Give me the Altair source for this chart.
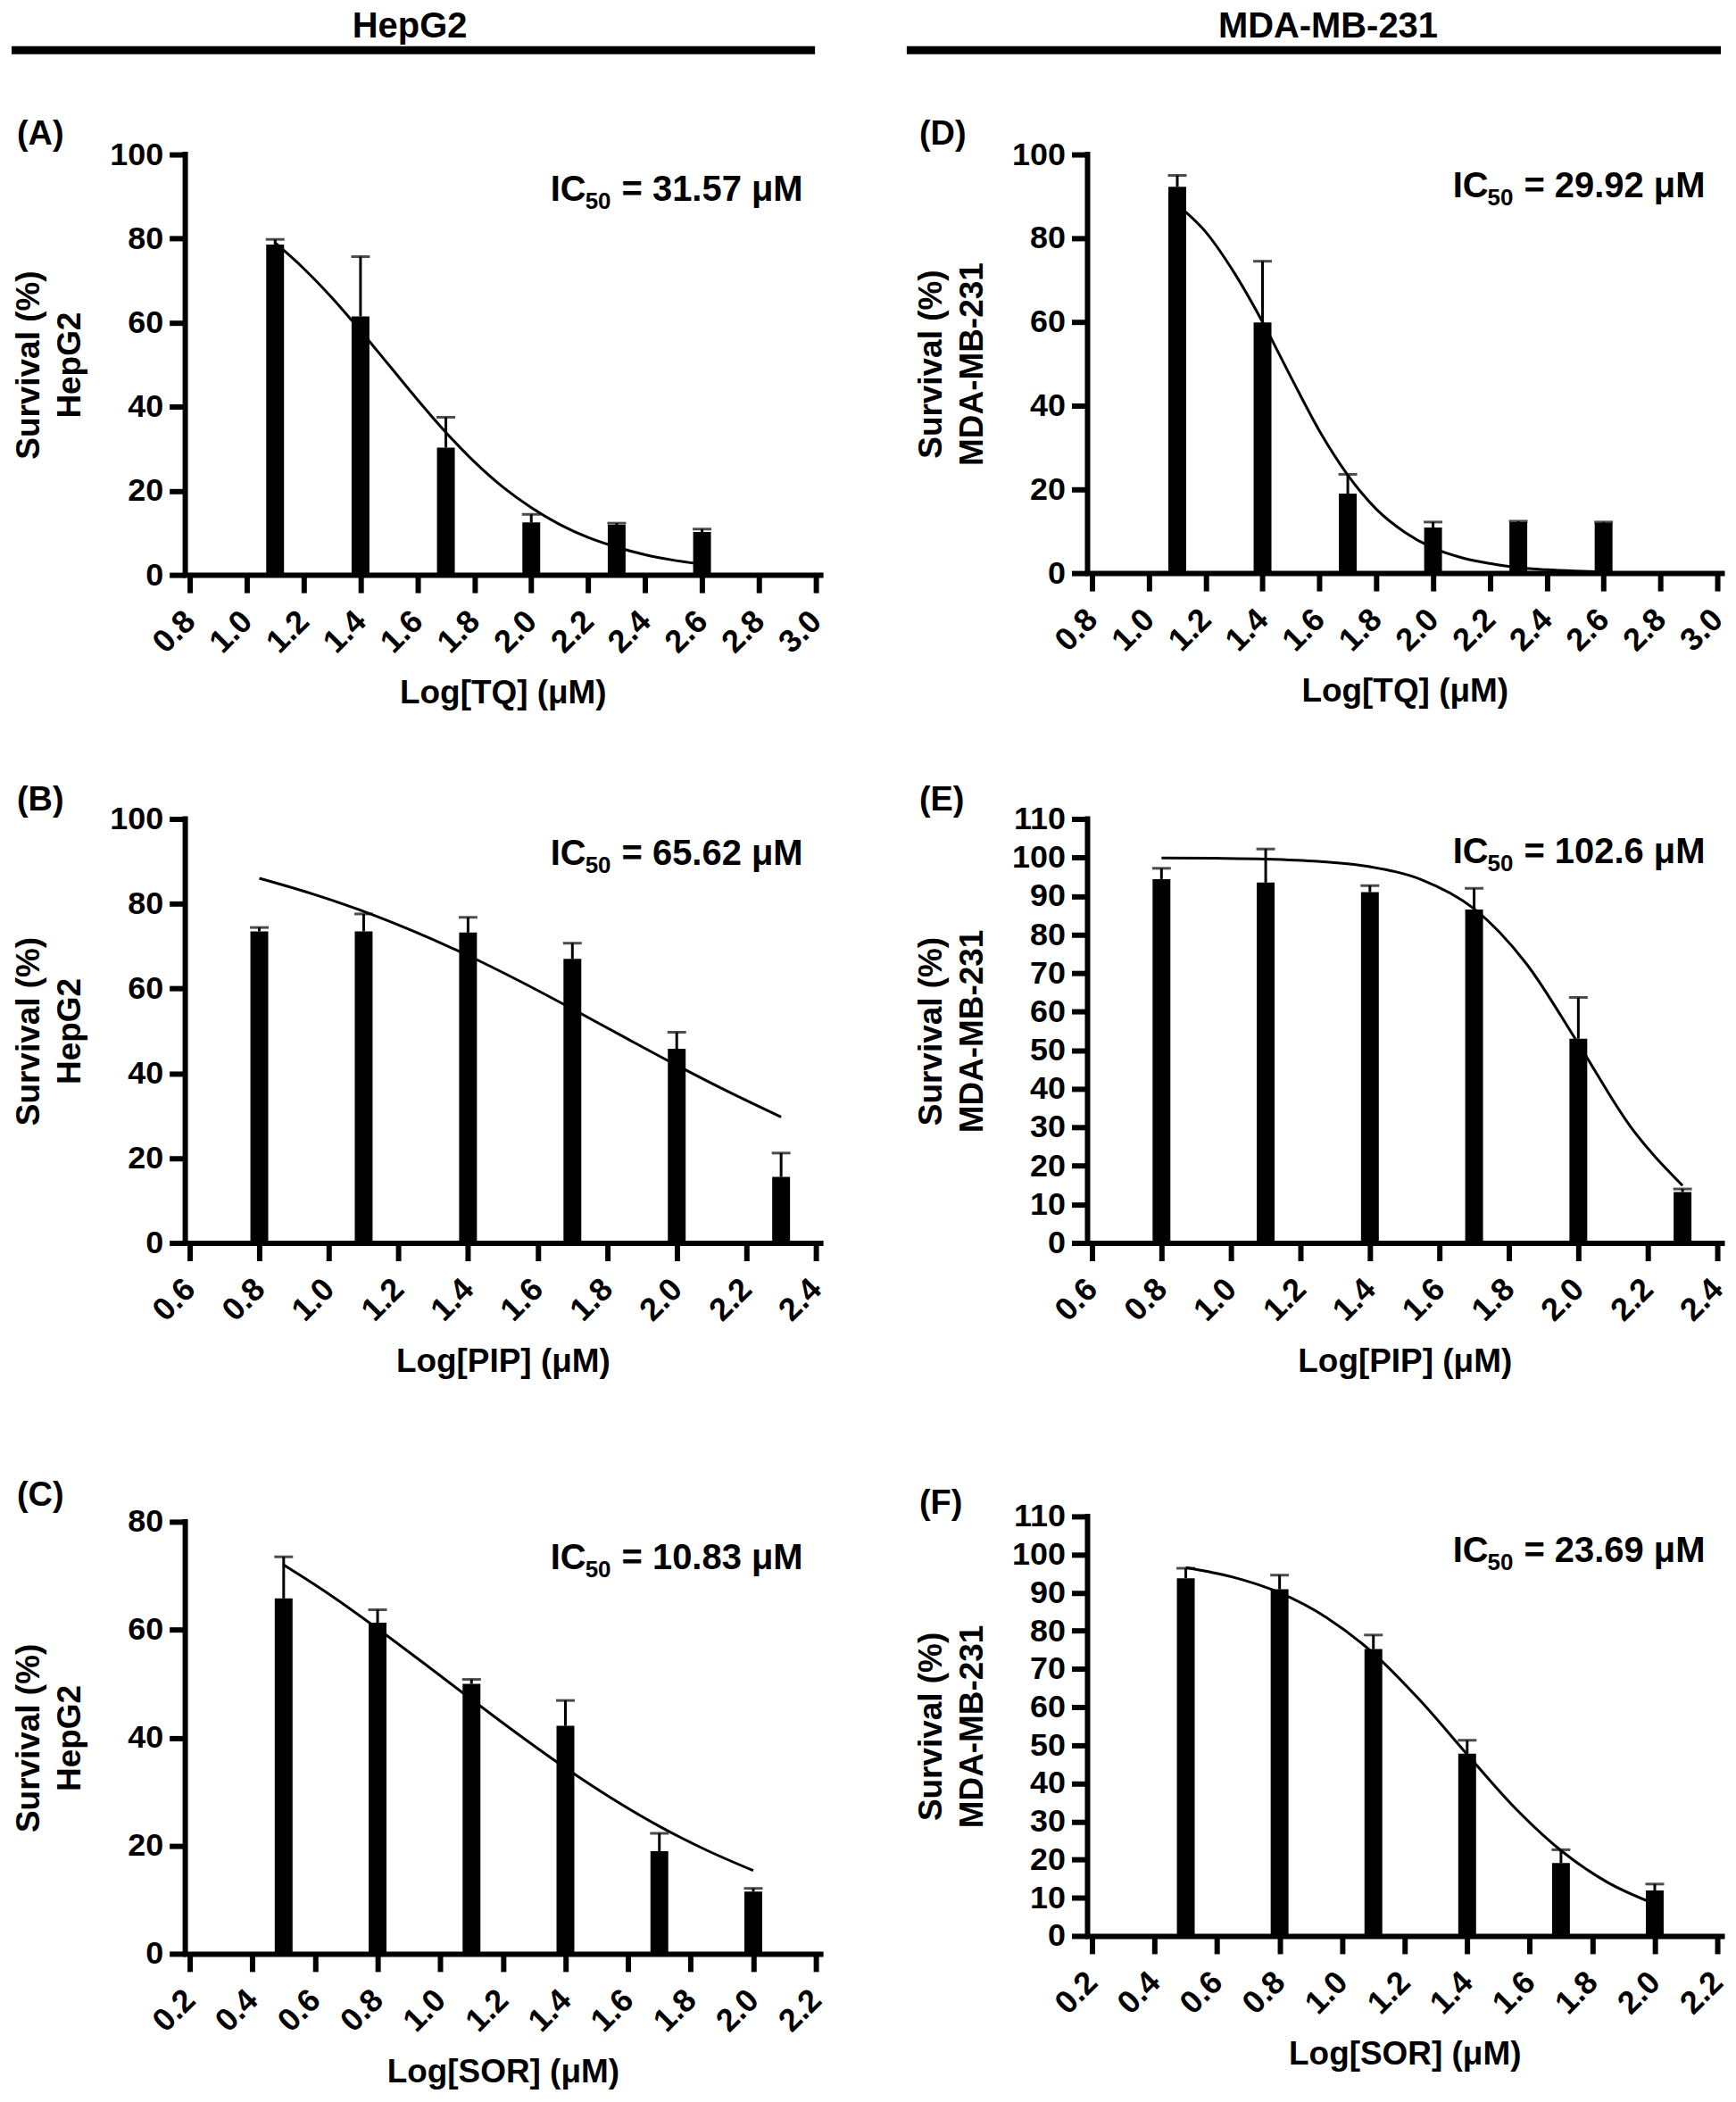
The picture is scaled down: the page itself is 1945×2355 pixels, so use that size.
import altair as alt
import pandas as pd

FONT = "Liberation Sans"

# ---------------- text content ----------------
headers = ["HepG2", "MDA-MB-231"]
letters = ["(A)", "(B)", "(C)", "(D)", "(E)", "(F)"]
x_titles = ["Log[TQ] (μM)", "Log[PIP] (μM)", "Log[SOR] (μM)"]
y_titles = [["Survival (%)", "HepG2"], ["Survival (%)", "MDA-MB-231"]]
ic50_values = ["31.57", "65.62", "10.83", "29.92", "102.6", "23.69"]

# ---------------- x positions (log concentration) ----------------
tq_x = [1.1, 1.4, 1.7, 2.0, 2.3, 2.6]
pip_x = [0.8, 1.1, 1.4, 1.7, 2.0, 2.3]
sor_x = [0.5, 0.8, 1.1, 1.4, 1.7, 2.0]

# ---------------- bar means and upper error ends ----------------
a_mean = [78.6, 61.5, 30.3, 12.5, 11.9, 10.2]
a_upper = [79.8, 75.7, 37.5, 14.4, 12.3, 10.9]
b_mean = [73.5, 73.5, 73.2, 67.0, 45.8, 15.6]
b_upper = [74.4, 77.6, 76.8, 70.7, 49.7, 21.2]
c_mean = [65.8, 61.3, 50.0, 42.2, 19.0, 11.5]
c_upper = [73.5, 63.7, 50.8, 46.9, 22.3, 12.1]
d_mean = [92.3, 59.9, 19.0, 10.9, 12.2, 12.0]
d_upper = [95.0, 74.5, 23.6, 12.2, 12.4, 12.2]
e_mean = [94.4, 93.5, 91.0, 86.5, 53.0, 13.2]
e_upper = [97.2, 102.2, 92.7, 92.0, 63.7, 14.0]
f_mean = [93.8, 90.9, 75.2, 47.8, 19.1, 11.9]
f_upper = [96.4, 94.6, 78.9, 51.3, 22.6, 13.6]

# ---------------- fitted curves ----------------
tq_fit_x = [1.1, 1.2, 1.3, 1.4, 1.5, 1.6, 1.7, 1.8, 1.9, 2.0, 2.1, 2.2, 2.3, 2.4, 2.5, 2.6]
a_fit = [79.0, 72.9, 65.9, 58.1, 49.9, 41.7, 33.9, 26.9, 20.9, 16.0, 12.0, 8.9, 6.6, 4.8, 3.5, 2.5]
d_fit = [88.0, 81.5, 71.8, 60.0, 46.8, 34.0, 23.4, 15.3, 9.8, 6.0, 3.7, 2.3, 1.3, 0.8, 0.5, 0.3]
pip_fit_x = [0.8, 0.95, 1.1, 1.25, 1.4, 1.55, 1.7, 1.85, 2.0, 2.15, 2.3]
b_fit = [86.0, 82.4, 78.2, 73.3, 67.8, 61.7, 55.2, 48.5, 41.9, 35.6, 29.7]
e_fit = [99.9, 99.8, 99.6, 99.0, 97.6, 94.2, 86.7, 72.5, 51.7, 30.2, 14.9]
sor_fit_x = [0.5, 0.65, 0.8, 0.95, 1.1, 1.25, 1.4, 1.55, 1.7, 1.85, 2.0]
c_fit = [72.0, 66.4, 60.2, 53.7, 47.1, 40.6, 34.4, 28.7, 23.6, 19.2, 15.4]
f_fit = [96.6, 94.1, 90.0, 83.5, 74.1, 61.7, 47.6, 33.8, 22.4, 14.0, 8.4]

# ---------------- axis ticks ----------------
tq_ticks = [0.8, 1.0, 1.2, 1.4, 1.6, 1.8, 2.0, 2.2, 2.4, 2.6, 2.8, 3.0]
pip_ticks = [0.6, 0.8, 1.0, 1.2, 1.4, 1.6, 1.8, 2.0, 2.2, 2.4]
sor_ticks = [0.2, 0.4, 0.6, 0.8, 1.0, 1.2, 1.4, 1.6, 1.8, 2.0, 2.2]
y_hep_100 = [0, 20, 40, 60, 80, 100]
y_hep_80 = [0, 20, 40, 60, 80]
y_mda_110 = [0, 10, 20, 30, 40, 50, 60, 70, 80, 90, 100, 110]
y_mda_100 = [0, 20, 40, 60, 80, 100]


def one(txt):
    return pd.DataFrame({"t": [txt]})


def panel(xs, mean, upper, fx, fy, xticks, yticks, xtitle, ytitle, letter, ic50,
          W, H, top_pad, letter_y, ic_y, header=None):
    ytop = yticks[-1]
    plot_h = H - top_pad
    ymax = ytop * H / plot_h
    xscale = alt.Scale(domain=[xticks[0], xticks[-1]], nice=False, zero=False)
    yscale = alt.Scale(domain=[0, ymax], nice=False, zero=False)
    xaxis = alt.Axis(
        values=xticks, format=".1f", title=xtitle, grid=False,
        labelAngle=315, labelAlign="right", labelBaseline="middle",
        labelPadding=26, labelFlush=False, labelOverlap=False, labelBound=False,
        labelFont=FONT, labelFontSize=36, labelFontWeight="bold", labelColor="black",
        tickSize=20, tickWidth=6, tickColor="black",
        domainWidth=6, domainColor="black", domainCap="square",
        titleFont=FONT, titleFontSize=37, titleFontWeight="bold", titleColor="black",
        titleX=W / 2, titleY=144, titleAlign="center", titleBaseline="alphabetic",
    )
    yaxis = alt.Axis(
        values=yticks, format="d", title=ytitle, grid=False, domain=False,
        labelPadding=7, labelFlush=False, labelOverlap=False, labelBound=False,
        labelFont=FONT, labelFontSize=36, labelFontWeight="bold", labelColor="black",
        tickSize=18, tickWidth=6, tickColor="black",
        titleFont=FONT, titleFontSize=37, titleFontWeight="bold", titleColor="black",
        titleAngle=270, titleAlign="center", titleBaseline="alphabetic",
        titleLineHeight=46, titleX=-164, titleY=top_pad + plot_h / 2,
    )
    bars_df = pd.DataFrame({"x": xs, "m": mean, "u": upper})
    fit_df = pd.DataFrame({"x": fx, "y": fy})
    axis_df = pd.DataFrame({"y0": [0], "y1": [ytop]})

    X = alt.X("x:Q", scale=xscale, axis=xaxis)

    fit = alt.Chart(fit_df).mark_line(color="black", strokeWidth=3, interpolate="monotone").encode(
        x=X, y=alt.Y("y:Q", scale=yscale, axis=yaxis))
    bars = alt.Chart(bars_df).mark_bar(color="black", size=20, orient="vertical").encode(
        x=X, y=alt.Y("m:Q", scale=yscale, axis=yaxis), y2=alt.datum(0))
    stems = alt.Chart(bars_df).mark_rule(color="black", strokeWidth=3).encode(
        x=X, y=alt.Y("m:Q", scale=yscale, axis=yaxis), y2="u:Q")
    caps = alt.Chart(bars_df).mark_tick(color="black", orient="horizontal", size=21, thickness=3).encode(
        x=X, y=alt.Y("u:Q", scale=yscale, axis=yaxis))
    yline = alt.Chart(axis_df).mark_rule(color="black", strokeWidth=6, strokeCap="square").encode(
        x=alt.value(0), y=alt.Y("y0:Q", scale=yscale, axis=yaxis), y2="y1:Q")

    txt = dict(font=FONT, fontWeight="bold", color="black", baseline="alphabetic")
    lab = alt.Chart(one(letter)).mark_text(align="left", fontSize=38, **txt).encode(
        x=alt.value(-189), y=alt.value(letter_y), text="t:N")
    ic_x = 410
    ic1 = alt.Chart(one("IC")).mark_text(align="left", fontSize=40, **txt).encode(
        x=alt.value(ic_x), y=alt.value(ic_y), text="t:N")
    ic2 = alt.Chart(one("50")).mark_text(align="left", fontSize=26, **txt).encode(
        x=alt.value(ic_x + 39), y=alt.value(ic_y + 9), text="t:N")
    ic3 = alt.Chart(one("= " + ic50 + " μM")).mark_text(align="left", fontSize=40, **txt).encode(
        x=alt.value(ic_x + 80), y=alt.value(ic_y), text="t:N")

    layers = [fit, bars, stems, caps, yline, lab, ic1, ic2, ic3]
    if header is not None:
        name, cx, x1, x2 = header
        htxt = alt.Chart(one(name)).mark_text(align="center", fontSize=40, **txt).encode(
            x=alt.value(cx), y=alt.value(-131), text="t:N")
        hrule = alt.Chart(one(name)).mark_rule(color="black", strokeWidth=9).encode(
            x=alt.value(x1), x2=alt.value(x2), y=alt.value(-117))
        layers += [htxt, hrule]
    return alt.layer(*layers).properties(width=W, height=H)


pA = panel(tq_x, a_mean, a_upper, tq_fit_x, a_fit, tq_ticks, y_hep_100, x_titles[0], y_titles[0],
           letters[0], ic50_values[0], 713, 472, 0, -11, 52, header=(headers[0], 252, -195, 707))
pB = panel(pip_x, b_mean, b_upper, pip_fit_x, b_fit, pip_ticks, y_hep_100, x_titles[1], y_titles[0],
           letters[1], ic50_values[1], 713, 476, 0, -10, 52)
pC = panel(sor_x, c_mean, c_upper, sor_fit_x, c_fit, sor_ticks, y_hep_80, x_titles[2], y_titles[0],
           letters[2], ic50_values[2], 713, 524, 39, 21, 92)
pD = panel(tq_x, d_mean, d_upper, tq_fit_x, d_fit, tq_ticks, y_mda_100, x_titles[0], y_titles[1],
           letters[3], ic50_values[3], 712, 470, 0, -11, 48, header=(headers[1], 270, -203, 711))
pE = panel(pip_x, e_mean, e_upper, pip_fit_x, e_fit, pip_ticks, y_mda_110, x_titles[1], y_titles[1],
           letters[4], ic50_values[4], 712, 476, 0, -10, 50)
pF = panel(sor_x, f_mean, f_upper, sor_fit_x, f_fit, sor_ticks, y_mda_110, x_titles[2], y_titles[1],
           letters[5], ic50_values[5], 712, 504, 33, 30, 84)

chart = alt.concat(
    pA, pD, pB, pE, pC, pF,
    columns=2, spacing={"row": 274, "column": 300}, bounds="flush", align="each",
).properties(padding=0, background="white").configure_view(stroke=None)

chart.save("out.html", embed_options={"renderer": "svg", "actions": False})
